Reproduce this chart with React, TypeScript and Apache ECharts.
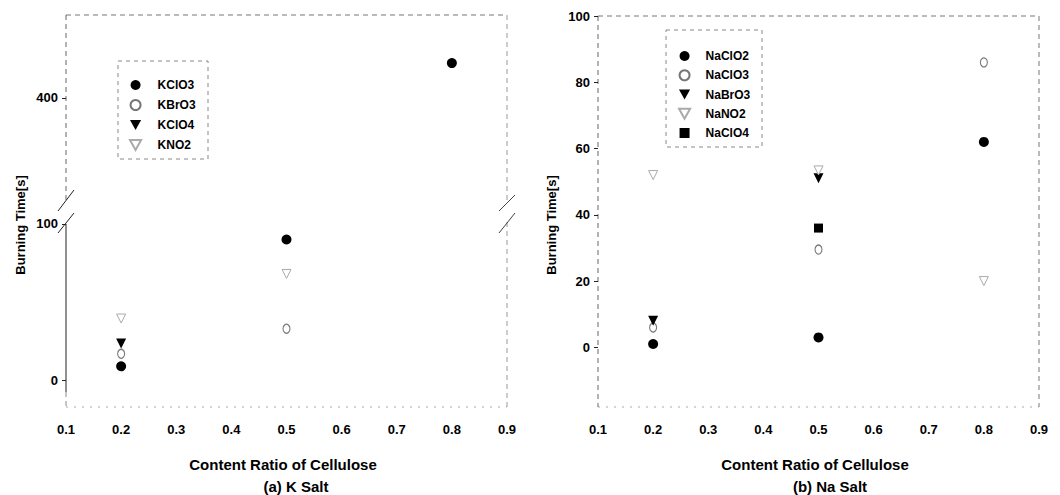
import React, { useEffect, useRef } from "react";
import * as echarts from "echarts";

// Content ratio of cellulose (x positions of the measurements)
const ratios = [0.2, 0.5, 0.8];

// (a) K salt burning times [s]
const kClO3 = [9, 90, 442];
const kBrO3 = [17, 33, null];
const kClO4 = [23.5, null, null];
const kNO2 = [39.5, 68, null];

// (b) Na salt burning times [s]
const naClO2 = [1, 3, 62];
const naClO3 = [6, 29.5, 86];
const naBrO3 = [8, 51, null];
const naNO2 = [52, 53.4, 20];
const naClO4 = [null, 36, null];

// Tick labels
const kLowerTicks = [0, 100];
const kUpperTicks = [400];
const naTicks = [0, 20, 40, 60, 80, 100];

const K_BREAK_LOW = 105;
const K_BREAK_HIGH = 277;

const FONT = "'Liberation Sans', Arial, sans-serif";
const DOWN_TRI = "path://M0,0 L10,0 L5,9 Z";
const SQUARE = "path://M0,0 L10,0 L10,10 L0,10 Z";

const styles: Record<string, any> = {
  filledCircle: { symbol: "circle", symbolSize: 10, itemStyle: { color: "#000", opacity: 1 } },
  openCircle: { symbol: "circle", symbolSize: [7, 9], itemStyle: { color: "#fff", borderColor: "#777", borderWidth: 1.2, opacity: 1 } },
  filledTri: { symbol: DOWN_TRI, symbolSize: 10, itemStyle: { color: "#000", opacity: 1 } },
  openTri: { symbol: DOWN_TRI, symbolSize: 9, itemStyle: { color: "#fff", borderColor: "#aaa", borderWidth: 1, opacity: 1 } },
  square: { symbol: SQUARE, symbolSize: 9, symbolKeepAspect: true, itemStyle: { color: "#000", opacity: 1 } },
};

function pts(vals: (number | null)[], lo: number, hi: number) {
  return ratios
    .map((r, i) => [r, vals[i]])
    .filter((p) => p[1] != null && (p[1] as number) >= lo && (p[1] as number) <= hi);
}

const labelStyle = { fontFamily: FONT, fontWeight: "bold", fontSize: 13, color: "#000" };

function xAxisFor(gridIndex: number, showLabels: boolean) {
  return {
    type: "value",
    gridIndex,
    min: 0.1,
    max: 0.9,
    interval: 0.1,
    axisLine: { show: false },
    axisTick: { show: false },
    splitLine: { show: false },
    axisLabel: {
      show: showLabels,
      ...labelStyle,
      margin: 16,
      formatter: (v: number) => v.toFixed(1),
    },
  };
}

function yAxisFor(gridIndex: number, min: number, max: number, ticks: number[]) {
  return {
    type: "value",
    gridIndex,
    min,
    max,
    axisLine: { show: false },
    splitLine: { show: false },
    axisTick: { show: true, length: 4, customValues: ticks, lineStyle: { color: "#222" } },
    axisLabel: { ...labelStyle, margin: 8, customValues: ticks },
  };
}

function line(x1: number, y1: number, x2: number, y2: number, stroke: string, dash?: number[], w = 1) {
  return {
    type: "line",
    silent: true,
    shape: { x1, y1, x2, y2 },
    style: { stroke, lineWidth: w, lineDash: dash || null },
  };
}

function text(x: number, y: number, t: string, size: number, rot = 0) {
  return {
    type: "text",
    x,
    y,
    rotation: rot,
    silent: true,
    style: {
      text: t,
      fill: "#000",
      font: `bold ${size}px ${FONT}`,
      align: "center",
      verticalAlign: "middle",
    },
  };
}

export default function App() {
  const ref = useRef<HTMLDivElement>(null);

  useEffect(() => {
    if (!ref.current) return;
    const chart = echarts.init(ref.current, null, { renderer: "svg" });

    const kSeries = [
      { name: "KClO3", st: "filledCircle", vals: kClO3 },
      { name: "KBrO3", st: "openCircle", vals: kBrO3 },
      { name: "KClO4", st: "filledTri", vals: kClO4 },
      { name: "KNO2", st: "openTri", vals: kNO2 },
    ];
    const naSeries = [
      { name: "NaClO2", st: "filledCircle", vals: naClO2 },
      { name: "NaClO3", st: "openCircle", vals: naClO3 },
      { name: "NaBrO3", st: "filledTri", vals: naBrO3 },
      { name: "NaNO2", st: "openTri", vals: naNO2 },
      { name: "NaClO4", st: "square", vals: naClO4 },
    ];

    const series: any[] = [];
    kSeries.forEach((s) => {
      series.push({ type: "scatter", name: s.name, xAxisIndex: 0, yAxisIndex: 0, data: pts(s.vals, -100, K_BREAK_LOW), ...styles[s.st] });
    });
    kSeries.forEach((s) => {
      const d = pts(s.vals, K_BREAK_HIGH, 10000);
      if (d.length) series.push({ type: "scatter", name: s.name, xAxisIndex: 1, yAxisIndex: 1, data: d, ...styles[s.st] });
    });
    naSeries.forEach((s) => {
      series.push({ type: "scatter", name: s.name, xAxisIndex: 2, yAxisIndex: 2, data: pts(s.vals, -100, 1000), ...styles[s.st] });
    });

    const dash = [5, 4];
    const dot = [2, 6];
    const graphic: any[] = [
      // left frame
      line(66, 15, 507, 15, "#777", dash),
      line(66, 407, 507, 407, "#aaa", dot),
      line(66, 15, 66, 201, "#666", dash),
      line(66, 224, 66, 392, "#222"),
      line(66, 392, 66, 407, "#888", dash),
      line(507, 15, 507, 203, "#999", dash),
      line(507, 222, 507, 407, "#999", dash),
      // break marks
      line(58, 211, 74, 190, "#222"),
      line(58, 233, 74, 213, "#222"),
      line(499, 211, 515, 195, "#444"),
      line(499, 233, 515, 213, "#444"),
      // right frame
      line(598, 16, 1039, 16, "#777", dash),
      line(598, 407, 1039, 407, "#aaa", dot),
      line(598, 16, 598, 407, "#666", dash),
      line(1039, 16, 1039, 407, "#777", dash),
      // legend boxes
      { type: "rect", silent: true, shape: { x: 118, y: 61, width: 90, height: 98 }, style: { fill: "none", stroke: "#888", lineDash: [4, 4] } },
      { type: "rect", silent: true, shape: { x: 666, y: 30, width: 96, height: 117 }, style: { fill: "none", stroke: "#888", lineDash: [4, 4] } },
      // titles
      text(20, 225, "Burning Time[s]", 13, Math.PI / 2),
      text(551, 225, "Burning Time[s]", 13, Math.PI / 2),
      text(283, 464, "Content Ratio of Cellulose", 15),
      text(296, 486, "(a) K Salt", 15),
      text(815, 464, "Content Ratio of Cellulose", 15),
      text(830, 486, "(b) Na Salt", 15),
    ];

    const legendBase = {
      orient: "vertical",
      selectedMode: false,
      itemHeight: 10,
      textStyle: { ...labelStyle, fontSize: 12, lineHeight: 14 },
    };

    chart.setOption({
      animation: false,
      backgroundColor: "#fff",
      grid: [
        { left: 66, top: 216, width: 441, height: 191 },
        { left: 66, top: 15, width: 441, height: 185 },
        { left: 598, top: 16, width: 441, height: 391 },
      ],
      xAxis: [xAxisFor(0, true), xAxisFor(1, false), xAxisFor(2, true)],
      yAxis: [
        yAxisFor(0, -17, K_BREAK_LOW, kLowerTicks),
        yAxisFor(1, K_BREAK_HIGH, 500, kUpperTicks),
        yAxisFor(2, -18, 100, naTicks),
      ],
      legend: [
        { ...legendBase, left: 124, top: 73, itemWidth: 34, itemGap: 6, data: kSeries.map((s) => s.name) },
        { ...legendBase, left: 673, top: 44, itemWidth: 32, itemGap: 5.25, data: naSeries.map((s) => s.name) },
      ],
      series,
      graphic,
    });

    return () => chart.dispose();
  }, []);

  return <div ref={ref} style={{ position: "fixed", left: 0, top: 0, width: 1060, height: 495 }} />;
}
